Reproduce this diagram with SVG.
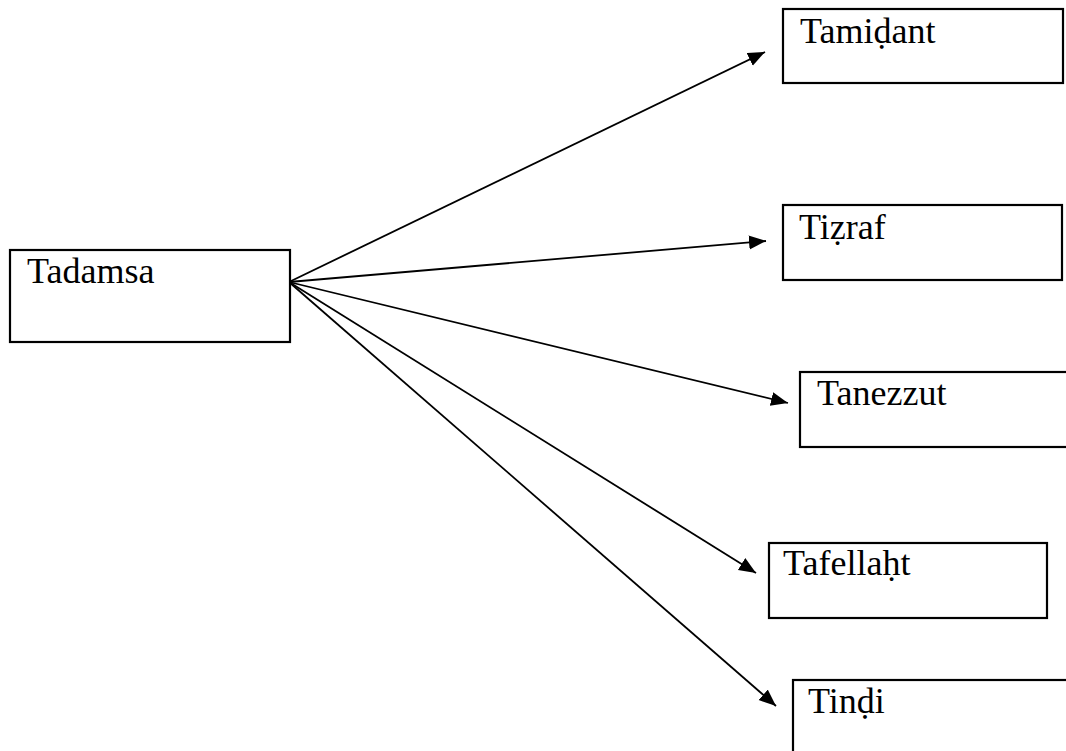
<svg xmlns="http://www.w3.org/2000/svg" width="1066" height="751" viewBox="0 0 1066 751">
  <defs>
    <marker id="arrow" markerUnits="userSpaceOnUse" markerWidth="20" markerHeight="16" refX="17" refY="7" orient="auto">
      <path d="M0,0 L17,7 L0,14 Z" fill="#000"/>
    </marker>
    <style>
      .box { fill: #fff; stroke: #000; stroke-width: 2.2; }
      .lbl { font-family: 'Liberation Serif', serif; font-size: 36px; fill: #000; }
      .conn { stroke: #000; stroke-width: 1.8; fill: none; marker-end: url(#arrow); }
    </style>
  </defs>
  <rect width="1066" height="751" fill="#fff"/>
  <g id="connectors">
    <line class="conn" x1="289" y1="282" x2="765" y2="52"/>
    <line class="conn" x1="289" y1="282" x2="766" y2="241"/>
    <line class="conn" x1="289" y1="282" x2="788" y2="403"/>
    <line class="conn" x1="289" y1="282" x2="756" y2="573"/>
    <line class="conn" x1="289" y1="282" x2="776" y2="706"/>
  </g>
  <g id="tadamsa">
    <rect class="box" x="10" y="250" width="280" height="92"/>
    <text class="lbl" x="27" y="283">Tadamsa</text>
  </g>
  <g id="tamidant">
    <rect class="box" x="783" y="9" width="280" height="74"/>
    <text class="lbl" x="800" y="43">Tamiḍant</text>
  </g>
  <g id="tizraf">
    <rect class="box" x="783" y="205" width="279" height="75"/>
    <text class="lbl" x="799" y="239">Tiẓraf</text>
  </g>
  <g id="tanezzut">
    <rect class="box" x="800" y="372" width="280" height="75"/>
    <text class="lbl" x="817" y="405">Tanezzut</text>
  </g>
  <g id="tafellaht">
    <rect class="box" x="769" y="543" width="278" height="75"/>
    <text class="lbl" x="783" y="575">Tafellaḥt</text>
  </g>
  <g id="tindi">
    <rect class="box" x="793" y="680" width="290" height="90"/>
    <text class="lbl" x="808" y="713">Tinḍi</text>
  </g>
</svg>
